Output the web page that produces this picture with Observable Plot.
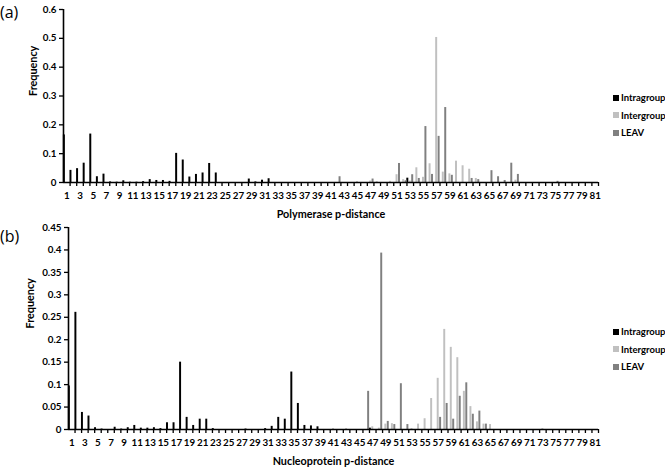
<!DOCTYPE html>
<html><head><meta charset="utf-8">
<script src="https://cdn.jsdelivr.net/npm/d3@7"></script>
<script src="https://cdn.jsdelivr.net/npm/@observablehq/plot@0.6"></script>
<style>
body{margin:0;background:#fff;}
#wrap{position:relative;width:665px;height:469px;overflow:hidden;background:#fff;}
.panel{position:absolute;left:0;}
.tag{position:absolute;left:0px;font:16px "Open Sans",sans-serif;color:#000;}
.legend{position:absolute;left:613px;font:bold 9.5px Lato,sans-serif;color:#000;}
.legend div{height:17.5px;display:flex;align-items:center;white-space:nowrap;}
.legend .sw{display:inline-block;width:6px;height:6px;margin-right:2px;}
</style></head><body>
<div id="wrap">
  <div class="tag" style="top:1px">(a)</div>
  <div class="tag" style="top:225px">(b)</div>
  <div id="pa" class="panel" style="top:0px"></div>
  <div id="pb" class="panel" style="top:222px"></div>
  <div id="la" class="legend" style="top:89px"></div>
  <div id="lb" class="legend" style="top:323px"></div>
</div>
<script>
const distances = d3.range(1, 82);
const seriesNames = ["Intragroup", "Intergroup", "LEAV"];
const seriesColors = ["#000000", "#c0c0c0", "#808080"];

// Panel (a): Polymerase p-distance
const polIntra = [
 0.165,0.042,0.048,0.067,0.168,0.020,0.029,0.002,0.001,0.006,
 0.001,0.001,0.003,0.010,0.007,0.007,0.004,0.101,0.078,0.019,
 0.028,0.033,0.066,0.033,0,0,0,0,0.012,0.002,
 0.008,0.013,0,0,0,0,0,0,0,0,
 0,0,0,0,0,0,0,0,0,0,
 0,0,0.015,0,0,0,0,0,0,0,
 0,0,0,0,0,0,0,0,0,0,
 0,0,0,0,0,0,0,0,0,0,
 0];
const polInter = [
 0,0,0,0,0,0,0,0,0,0,
 0,0,0,0,0,0,0,0,0,0,
 0,0,0,0,0,0,0,0,0,0,
 0,0,0,0,0,0,0,0,0,0,
 0,0,0,0,0.003,0,0.005,0.003,0,0.004,
 0.027,0.010,0.005,0.051,0.018,0.065,0.503,0.036,0.030,0.074,
 0.058,0.046,0.014,0,0,0,0,0,0.008,0,
 0,0,0,0,0,0,0,0,0,0,
 0];
const polLeav = [
 0,0,0,0,0,0,0,0,0,0,
 0,0,0,0,0,0,0,0,0,0,
 0,0,0,0,0,0,0,0,0,0,
 0,0,0,0,0,0,0,0,0,0,
 0,0.020,0,0,0,0,0.012,0,0,0,
 0.066,0.006,0.027,0.014,0.194,0.028,0.160,0.260,0.025,0,
 0,0.014,0.010,0,0.041,0.020,0.007,0.067,0.028,0,
 0,0,0,0,0.004,0,0,0,0,0,
 0];

// Panel (b): Nucleoprotein p-distance
const npIntra = [
 0.097,0.261,0.038,0.030,0.004,0.001,0,0.005,0.001,0.004,
 0.009,0.003,0.003,0.004,0.002,0.015,0.015,0.150,0.027,0.009,
 0.023,0.023,0.002,0,0,0,0,0.001,0,0,
 0.002,0.007,0.027,0.023,0.128,0.058,0.009,0.008,0.006,0,
 0,0,0,0,0,0,0.003,0,0,0,
 0,0,0,0,0,0,0,0,0,0,
 0,0,0,0,0,0,0,0,0,0,
 0,0,0,0,0,0,0,0,0,0,
 0];
const npInter = [
 0,0,0,0,0,0,0,0,0,0,
 0,0,0,0,0,0,0,0,0,0,
 0,0,0,0,0,0,0,0,0,0,
 0,0,0,0,0,0,0,0,0,0,
 0.002,0,0.002,0,0,0,0.006,0.003,0.012,0.013,
 0,0,0.002,0.012,0.024,0.069,0.114,0.223,0.183,0.160,
 0.085,0.051,0.017,0.012,0.011,0,0,0,0,0,
 0,0,0.002,0,0,0,0,0,0,0,
 0];
const npLeav = [
 0,0,0,0,0,0,0,0,0,0,
 0,0,0,0,0,0,0,0,0,0,
 0,0,0,0,0,0,0,0,0,0,
 0,0,0,0,0,0,0,0,0,0,
 0,0,0,0,0,0.085,0,0.393,0.018,0.011,
 0.102,0.011,0,0,0,0,0.027,0.058,0.023,0.074,
 0.104,0.034,0.041,0.012,0,0,0,0,0,0,
 0,0,0,0,0,0,0,0,0,0,
 0];

const polYTicks = [0,0.1,0.2,0.3,0.4,0.5,0.6];
const npYTicks = [0,0.05,0.1,0.15,0.2,0.25,0.3,0.35,0.4,0.45];
const xTickLabels = distances.filter(d => d % 2 === 1);

function rows(arr) {
  return distances.map((d, i) => ({d, v: arr[i]})).filter(r => r.v > 0);
}

function panel({series, yTicks, height, marginTop, marginBottom, marginLeft, xLabel, yTitleX}) {
  const width = 665, marginRight = 67;
  const bw = (width - marginLeft - marginRight) / distances.length;
  const s = bw * 0.37;
  const ins = (bw - bw * 0.3) / 2;
  const yMax = yTicks[yTicks.length - 1];
  const barMarks = series.map((arr, k) =>
    Plot.barY(rows(arr), {x: "d", y: "v", fill: seriesColors[k], dx: (k - 1) * s, insetLeft: ins, insetRight: ins}));
  return Plot.plot({
    width, height, marginLeft, marginRight, marginTop, marginBottom,
    style: {fontFamily: "Lato, sans-serif", fontWeight: "bold", fontSize: "9.8px", color: "#000", background: "transparent", overflow: "visible"},
    x: {type: "band", domain: distances, padding: 0, axis: null},
    y: {domain: [0, yMax], axis: null},
    marks: [
      ...barMarks,
      Plot.axisY({ticks: yTicks, tickSize: 4, tickPadding: 3, tickFormat: d => String(+d.toFixed(2)), label: null, strokeWidth: 1.3}),
      Plot.axisX({ticks: distances, tickSize: 4, tickFormat: () => "", dx: bw / 2, label: null, strokeWidth: 1.3}),
      Plot.axisX({ticks: xTickLabels, tickSize: 0, tickPadding: 10, label: null}),
      Plot.ruleY([0], {strokeWidth: 1.6}),
      Plot.ruleX([1], {dx: -bw / 2, y1: 0, y2: yMax, strokeWidth: 1.6}),
      Plot.text([xLabel], {frameAnchor: "bottom", dy: 35, text: d => d, fontSize: 10.8}),
      Plot.text(["Frequency"], {frameAnchor: "left", dx: yTitleX - marginLeft, rotate: -90, text: d => d, fontSize: 10.8})
    ]
  });
}

document.getElementById("pa").appendChild(panel({
  series: [polIntra, polInter, polLeav], yTicks: polYTicks,
  height: 222, marginTop: 9, marginBottom: 40, marginLeft: 63,
  xLabel: "Polymerase p-distance", yTitleX: 33
}));
document.getElementById("pb").appendChild(panel({
  series: [npIntra, npInter, npLeav], yTicks: npYTicks,
  height: 247, marginTop: 5, marginBottom: 40, marginLeft: 68,
  xLabel: "Nucleoprotein p-distance", yTitleX: 30
}));

for (const id of ["la", "lb"]) {
  const el = document.getElementById(id);
  seriesNames.forEach((n, k) => {
    const row = document.createElement("div");
    row.innerHTML = `<span class="sw" style="background:${seriesColors[k]}"></span>${n}`;
    el.appendChild(row);
  });
}
</script>
</body></html>
